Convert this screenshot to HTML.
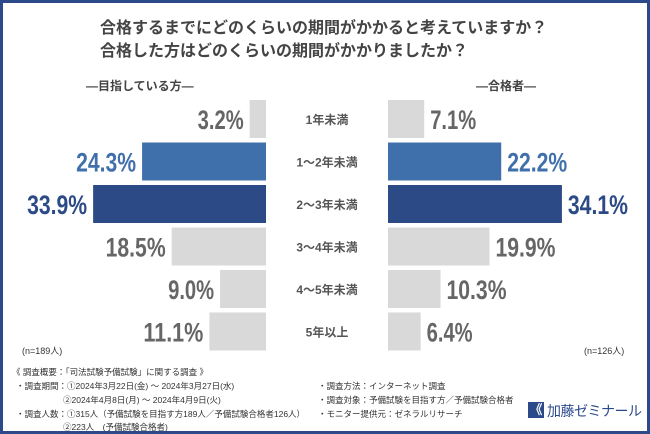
<!DOCTYPE html>
<html><head><meta charset="utf-8"><style>
body{margin:0;width:650px;height:434px;overflow:hidden;background:#fff;font-family:"Liberation Sans","Noto Sans CJK JP",sans-serif}
#frame{position:absolute;left:0;top:0;width:644px;height:428px;border:3px solid #2c4a8a;background:#fff}
.t{position:absolute;color:#444;font-weight:bold;white-space:nowrap}
.f{position:absolute;font-size:8.5px;color:#333;white-space:nowrap}
</style></head><body>
<div id="frame"></div>
<div class="t" style="left:100px;top:14px;font-size:16px">合格するまでにどのくらいの期間がかかると考えていますか？</div>
<div class="t" style="left:100px;top:37px;font-size:16px">合格した方はどのくらいの期間がかかりましたか？</div>
<div class="t" style="left:86px;top:77px;font-size:12px">―目指している方―</div>
<div class="t" style="left:476px;top:77px;font-size:12px">―合格者―</div>
<svg id="chart" width="650" height="434" style="position:absolute;left:0;top:0"></svg>
<div class="f" style="left:22px;top:344px;font-size:9px">(n=189人)</div>
<div class="f" style="left:584px;top:344px;font-size:9px">(n=126人)</div>
<div class="f" style="left:12px;top:366px">《 調査概要：「司法試験予備試験」に関する調査 》</div>
<div class="f" style="left:16px;top:380px">・調査期間：①2024年3月22日(金) ～ 2024年3月27日(水)</div>
<div class="f" style="left:63px;top:394px">②2024年4月8日(月) ～ 2024年4月9日(火)</div>
<div class="f" style="left:16px;top:408px">・調査人数：①315人（予備試験を目指す方189人／予備試験合格者126人）</div>
<div class="f" style="left:63px;top:421px">②223人　(予備試験合格者)</div>
<div class="f" style="left:318px;top:380px">・調査方法：インターネット調査</div>
<div class="f" style="left:318px;top:394px">・調査対象：予備試験を目指す方／予備試験合格者</div>
<div class="f" style="left:318px;top:408px">・モニター提供元：ゼネラルリサーチ</div>
<div style="position:absolute;left:528px;top:402px;width:16px;height:16px;background:#2c4a8a;color:#fff;font-size:13px;font-weight:bold;line-height:16px;text-align:center">《</div>
<div style="position:absolute;left:547px;top:401px;font-size:14px;color:#2c4a8a;white-space:nowrap;letter-spacing:-0.5px">加藤ゼミナール</div>
<script>
const categories=["1年未満","1～2年未満","2～3年未満","3～4年未満","4～5年未満","5年以上"];
const leftValues=[3.2,24.3,33.9,18.5,9.0,11.1];
const rightValues=[7.1,22.2,34.1,19.9,10.3,6.4];
const leftColors=["#d9d9d9","#4070ab","#2b4a86","#d9d9d9","#d9d9d9","#d9d9d9"];
const labelColors=["#666","#4070ab","#2b4a86","#666","#666","#666"];
const svg=document.getElementById('chart');
const NS="http://www.w3.org/2000/svg";
const scale=v=>v*5.1;
const rowY=i=>100+i*42.5;
const barH=38;
function mk(tag,attrs){const e=document.createElementNS(NS,tag);for(const k in attrs)e.setAttribute(k,attrs[k]);svg.appendChild(e);return e;}
function lab(s){return {len:s.length>=5?60:46};}
categories.forEach((c,i)=>{
  const y=rowY(i);
  const lw=scale(leftValues[i]);
  const lb=mk('rect',{x:266-lw,y:y,width:lw,height:barH,fill:leftColors[i]});
  
  
  const ls=leftValues[i].toFixed(1)+'%';
  const lt=mk('text',{x:266-lw-6,y:y+barH/2+10,'text-anchor':'end','font-size':27,'font-weight':'bold',fill:labelColors[i],'font-family':'Liberation Sans, sans-serif',textLength:lab(ls).len,lengthAdjust:'spacingAndGlyphs'});
  lt.textContent=ls;
  
  
  const rw=scale(rightValues[i]);
  const rb=mk('rect',{x:388,y:y,width:rw,height:barH,fill:leftColors[i]});
  
  
  const rs=rightValues[i].toFixed(1)+'%';
  const rt=mk('text',{x:388+rw+6,y:y+barH/2+10,'text-anchor':'start','font-size':27,'font-weight':'bold',fill:labelColors[i],'font-family':'Liberation Sans, sans-serif',textLength:lab(rs).len,lengthAdjust:'spacingAndGlyphs'});
  rt.textContent=rs;
  
  
  const ct=mk('text',{x:327,y:y+barH/2+5,'text-anchor':'middle','font-size':12,'font-weight':'bold',fill:'#555','font-family':'Liberation Sans, Noto Sans CJK JP, sans-serif'});
  ct.textContent=c;
  
  
});
</script>
</body></html>
